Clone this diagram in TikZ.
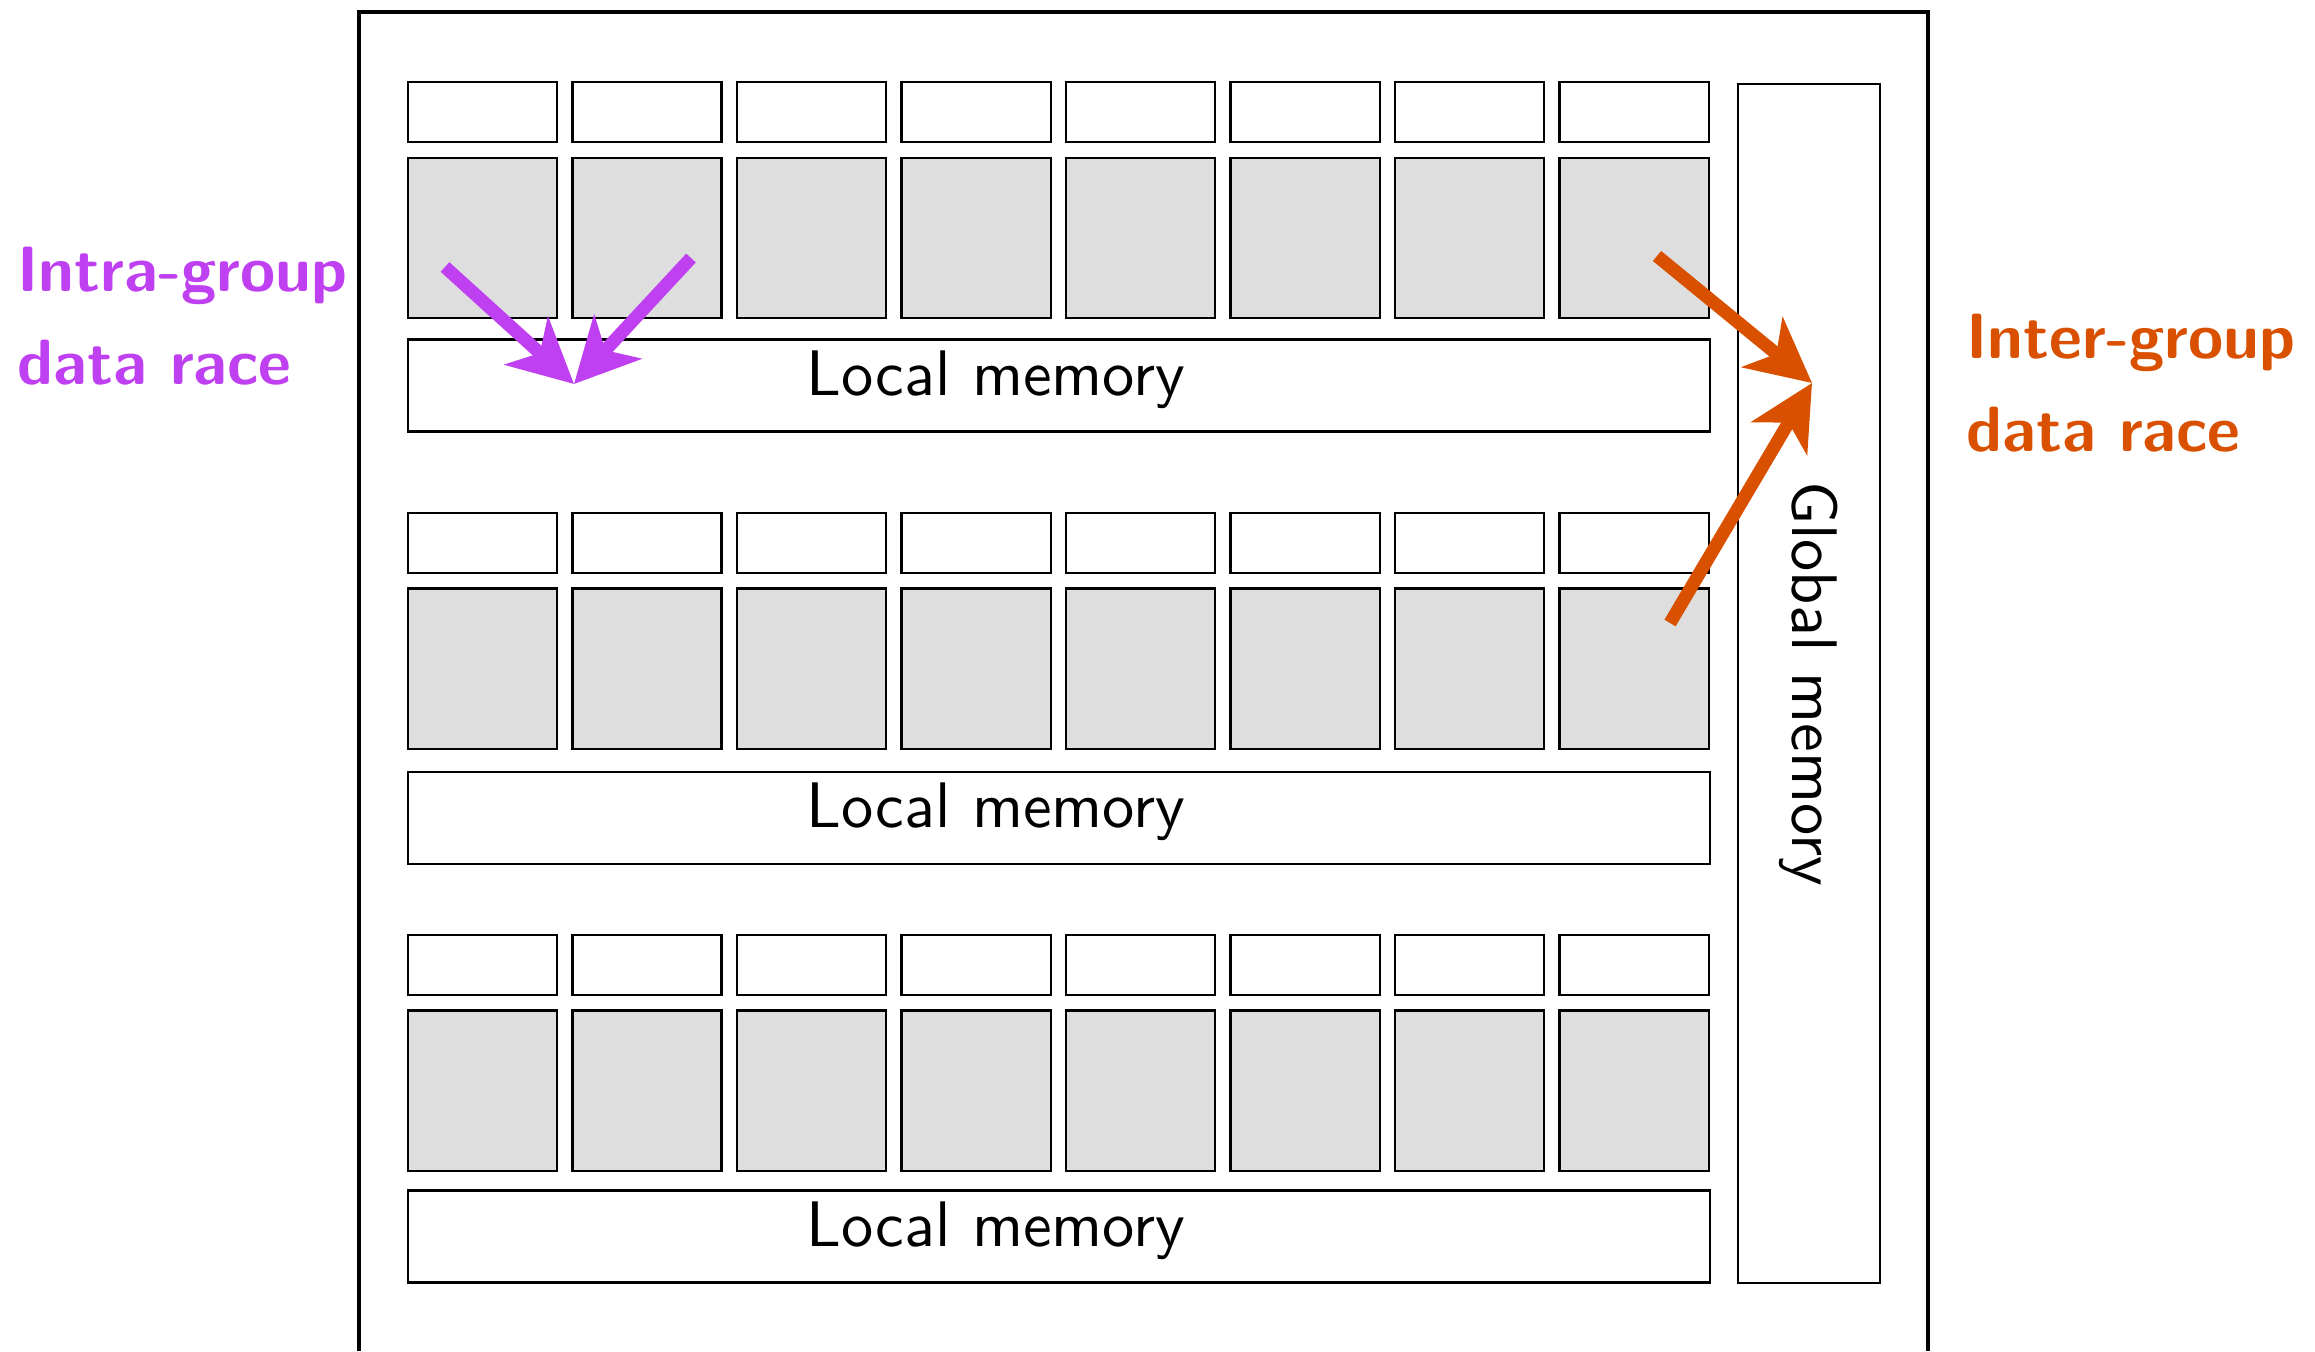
\documentclass[tikz,border=0pt]{standalone}
\usepackage{fontspec}
\setsansfont{lmsans10-regular.otf}[BoldFont=lmsans10-bold.otf]
\usetikzlibrary{arrows.meta}
\definecolor{intracol}{RGB}{191,64,240}
\definecolor{intercol}{RGB}{217,81,0}
\definecolor{pegray}{RGB}{222,222,222}
\tikzstyle{chipframe} = [
	line width=1.4pt
]
\tikzstyle{privmem} = [
	rectangle,
	minimum width=1.49cm,
	minimum height=0.6cm,
	inner sep=0pt,
	draw=black,
	line width=0.6pt
]
\tikzstyle{workitem} = [
	rectangle,
	minimum width=1.49cm,
	minimum height=1.6cm,
	inner sep=0pt,
	draw=black,
	line width=0.6pt,
	fill=pegray
]
\tikzstyle{localmem} = [
	rectangle,
	minimum width=13.02cm,
	minimum height=0.92cm,
	inner sep=0pt,
	draw=black,
	line width=0.6pt
]
\tikzstyle{globalmem} = [
	rectangle,
	rotate=-90,
	minimum width=11.99cm,
	minimum height=1.42cm,
	inner sep=0pt,
	draw=black,
	line width=0.6pt,
	font=\sffamily\fontsize{18.3}{22}\selectfont
]
\tikzstyle{memtext} = [
	inner sep=0pt,
	anchor=base,
	font=\sffamily\fontsize{18.3}{22}\selectfont
]
\tikzstyle{racelabel} = [
	inner sep=0pt,
	anchor=north west,
	align=left,
	font=\sffamily\bfseries\fontsize{18.2}{26.6}\selectfont
]
\tikzstyle{racearrow} = [line width=0.13cm, -{Stealth[length=0.64cm, width=0.64cm, inset=0.18cm]}]

\begin{document}
\begin{tikzpicture}[x=0.01cm, y=-0.01cm]
	\useasboundingbox (0,0) rectangle (2315,1351);
	\draw [chipframe] (359,1351) -- (359,12) -- (1928,12) -- (1928,1351);

	% three work-groups
	\foreach \g/\ys/\yw/\yl in {1/112/238/385.5, 2/543/668.5/818, 3/965/1090.5/1236.5} {
		\foreach \i in {0,...,7} {
			\node (reg\g\i) [privmem] at (482.5+164.5*\i, \ys) {};
			\node (pe\g\i) [workitem] at (482.5+164.5*\i, \yw) {};
		}
		\node (lm\g) [localmem] at (1059, \yl) {};
		\node (lmtext\g) [memtext] at ([xshift=-0.63cm, yshift=-0.095cm]lm\g.center) {Local memory};
	}
	\node (gm) [globalmem] at (1809, 683.5) {Global memory};

	\node (intra) [racelabel, text=intracol] at (17, 246) {Intra-group\\data race};
	\node (inter) [racelabel, text=intercol] at (1966, 313) {Inter-group\\data race};

	\coordinate (intratip) at (574, 384);
	\coordinate (intraa) at (445, 267);
	\coordinate (intrab) at (691, 258);
	\coordinate (intertip) at (1812, 383);
	\coordinate (intera) at (1657, 256);
	\coordinate (interb) at (1670, 623);

	\draw [racearrow, draw=intracol, fill=intracol] (intraa) -- (intratip);
	\draw [racearrow, draw=intracol, fill=intracol] (intrab) -- (intratip);
	\draw [racearrow, draw=intercol, fill=intercol] (intera) -- (intertip);
	\draw [racearrow, draw=intercol, fill=intercol] (interb) -- (intertip);
\end{tikzpicture}
\end{document}
